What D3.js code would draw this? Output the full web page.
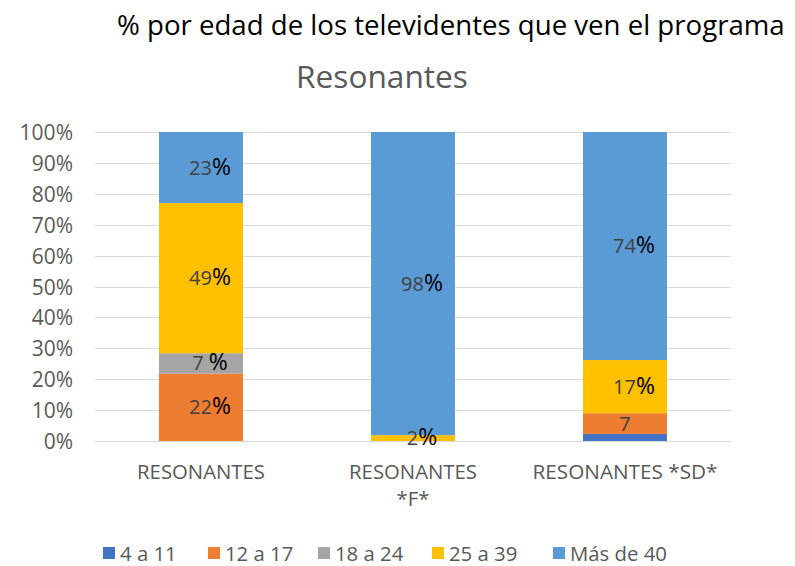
<!DOCTYPE html>
<html>
<head>
<meta charset="utf-8">
<script src="https://cdn.jsdelivr.net/npm/d3@7/dist/d3.min.js"></script>
<style>
  html, body { margin: 0; padding: 0; background: #fff; }
  svg { display: block; font-family: "Open Sans", "Noto Sans", sans-serif; }
</style>
</head>
<body>
<svg id="chart" width="795" height="566"></svg>
<script>
// ---- data ----
const categories = ["RESONANTES", "RESONANTES *F*", "RESONANTES *SD*"];
const seriesNames = ["4 a 11", "12 a 17", "18 a 24", "25 a 39", "Más de 40"];
const values_4a11 = [0, 0, 2.3];
const values_12a17 = [21.8, 0, 6.7];
const values_18a24 = [6.6, 0, 0];
const values_25a39 = [48.6, 1.9, 17.2];
const values_mas40 = [23.0, 98.1, 73.8];
// label texts (number part, percent part); empty = no label
const labelNum_4a11 = ["", "", ""];
const labelNum_12a17 = ["22", "", "7"];
const labelNum_18a24 = ["7 ", "", ""];
const labelNum_25a39 = ["49", "2", "17"];
const labelNum_mas40 = ["23", "98", "74"];
const labelPct_4a11 = ["", "", ""];
const labelPct_12a17 = ["%", "", ""];
const labelPct_18a24 = ["%", "", ""];
const labelPct_25a39 = ["%", "%", "%"];
const labelPct_mas40 = ["%", "%", "%"];
const yTicks = [0, 10, 20, 30, 40, 50, 60, 70, 80, 90, 100];
const colors = ["#4472C4", "#ED7D31", "#A5A5A5", "#FFC000", "#5B9BD5"];
const titleText = "% por edad de los televidentes que ven el programa";
const subtitleText = "Resonantes";

// ---- build ----
const seriesValues = [values_4a11, values_12a17, values_18a24, values_25a39, values_mas40];
const labelNums = [labelNum_4a11, labelNum_12a17, labelNum_18a24, labelNum_25a39, labelNum_mas40];
const labelPcts = [labelPct_4a11, labelPct_12a17, labelPct_18a24, labelPct_25a39, labelPct_mas40];
const table = categories.map((c, i) => {
  const row = { cat: c };
  seriesNames.forEach((s, j) => row[s] = seriesValues[j][i]);
  return row;
});
const stacked = d3.stack().keys(seriesNames)(table);

const svg = d3.select("#chart");

function fit(sel, target) {
  const n = sel.node();
  const fs = parseFloat(sel.attr("font-size"));
  const w = n.getComputedTextLength();
  if (w > 0) sel.attr("font-size", (fs * target / w).toFixed(2));
  return sel;
}

const x = d3.scaleBand().domain(categories).range([95, 731]).paddingInner(0.604).paddingOuter(0.302);
const y = d3.scaleLinear().domain([0, 100]).range([441, 132]);

// gridlines
svg.append("g").selectAll("line").data(yTicks).join("line")
  .attr("x1", 95).attr("x2", 731)
  .attr("y1", d => Math.round(y(d)) + 0.5).attr("y2", d => Math.round(y(d)) + 0.5)
  .attr("stroke", "#d9d9d9").attr("stroke-width", 1);

// y axis labels
const yAxis = svg.append("g").attr("transform", "translate(73,0)")
  .call(d3.axisLeft(y).tickValues(yTicks).tickFormat(d => d + "%").tickSize(0).tickPadding(0));
yAxis.select(".domain").remove();
yAxis.selectAll("text").attr("font-size", 21).attr("fill", "#595959")
  .attr("font-family", "'Open Sans', sans-serif").attr("dy", "0.36em");

// bars
const layers = svg.append("g").selectAll("g").data(stacked).join("g")
  .attr("fill", (d, i) => colors[i]);
layers.selectAll("rect").data(d => d.map(v => ({ v, cat: v.data.cat }))).join("rect")
  .attr("x", d => x(d.cat))
  .attr("width", x.bandwidth())
  .attr("y", d => y(d.v[1]))
  .attr("height", d => Math.max(0, y(d.v[0]) - y(d.v[1])));

// labels
stacked.forEach((layer, si) => {
  layer.forEach((seg, ci) => {
    const num = labelNums[si][ci];
    if (!num) return;
    const pct = labelPcts[si][ci];
    const cx = x(categories[ci]) + x.bandwidth() / 2 + (pct ? 9 : 0);
    const cy = y((seg[0] + seg[1]) / 2);
    const t = svg.append("text").attr("x", cx).attr("y", cy + 7)
      .attr("text-anchor", "middle");
    t.append("tspan").attr("fill", "#404040").attr("font-size", 20).text(num);
    if (pct) t.append("tspan").attr("fill", "#000").attr("font-size", 23).text(pct);
  });
});

// x category labels
const catLines = [["RESONANTES"], ["RESONANTES", "*F*"], ["RESONANTES *SD*"]];
const catWidths = [128, 128, 185];
catLines.forEach((lines, i) => {
  let fs = 18;
  lines.forEach((ln, k) => {
    const t = svg.append("text")
      .attr("x", x(categories[i]) + x.bandwidth() / 2)
      .attr("y", 479 + k * 27)
      .attr("text-anchor", "middle").attr("fill", "#595959")
      .attr("font-size", 18).text(ln);
    if (k === 0) { fit(t, catWidths[i]); fs = t.attr("font-size"); }
    else t.attr("font-size", fs);
  });
});

// titles
fit(svg.append("text").attr("x", 117).attr("y", 35).attr("fill", "#000")
  .attr("font-size", 24).text(titleText), 668);
fit(svg.append("text").attr("x", 382).attr("y", 88).attr("text-anchor", "middle")
  .attr("fill", "#595959").attr("font-size", 28).text(subtitleText), 172);

// legend
const legX = [103, 208, 318, 432, 553];
const leg = svg.append("g");
seriesNames.forEach((s, i) => {
  leg.append("rect").attr("x", legX[i]).attr("y", 547).attr("width", 12).attr("height", 12)
    .attr("fill", colors[i]);
  const t = leg.append("text").attr("x", legX[i] + 17).attr("y", 561)
    .attr("fill", "#595959").attr("font-size", 19).text(s);
  if (i === 4) fit(t, 97);
});
const legFs = leg.selectAll("text").filter((d, i) => i === 4).attr("font-size");
leg.selectAll("text").attr("font-size", legFs);
</script>
</body>
</html>
